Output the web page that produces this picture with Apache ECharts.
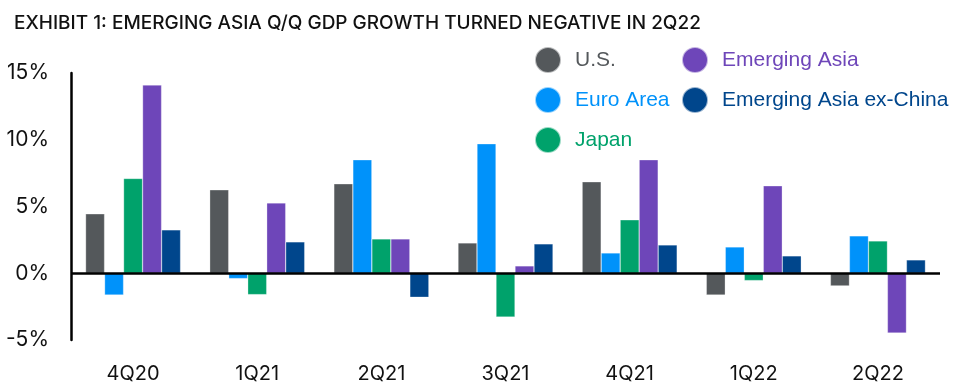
<!DOCTYPE html>
<html><head><meta charset="utf-8">
<script src="https://cdn.jsdelivr.net/npm/echarts@6/dist/echarts.min.js"></script>
<style>html,body{margin:0;padding:0;background:#fff}#c{width:955px;height:389px}</style>
</head><body><div id="c"></div>
<script>
const categories = ['4Q20','1Q21','2Q21','3Q21','4Q21','1Q22','2Q22'];
const us = [4.45, 6.25, 6.7, 2.27, 6.85, -1.63, -0.95];
const euroArea = [-1.63, -0.4, 8.5, 9.7, 1.52, 1.97, 2.8];
const japan = [7.1, -1.6, 2.57, -3.28, 4.0, -0.55, 2.42];
const emergingAsia = [14.1, 5.27, 2.57, 0.55, 8.5, 6.55, -4.48];
const emergingAsiaExChina = [3.25, 2.35, -1.8, 2.2, 2.12, 1.3, 1.0];
const yTicks = [-5, 0, 5, 10, 15];

const names = ['U.S.','Euro Area','Japan','Emerging Asia','Emerging Asia ex-China'];
const colors = ['#54585b','#0092fa','#00a26b','#6e46b9','#00468c'];
const values = [us, euroArea, japan, emergingAsia, emergingAsiaExChina];

const chart = echarts.init(document.getElementById('c'), null, {renderer:'canvas'});
const series = names.map((n,i)=>({
  name:n, type:'bar', data:values[i], barWidth:19, barGap:'0%',
  itemStyle:{color:colors[i], borderColor:'rgba(255,255,255,0.6)', borderWidth:0.5},
  markLine: i===0 ? {silent:true, symbol:'none', label:{show:false},
    lineStyle:{color:'#000', width:2.5, type:'solid'}, data:[{yAxis:0}], z:10} : undefined
}));
function legendItem(i){return {name:names[i], icon:'circle', textStyle:{color:colors[i]}};}
const legendText = {fontFamily:'Liberation Sans, Arial', fontSize:21, padding:[0,0,0,9]};
chart.setOption({
  animation:false,
  title:{text:'EXHIBIT 1: EMERGING ASIA Q/Q GDP GROWTH TURNED NEGATIVE IN 2Q22', left:14, top:14, padding:0,
    textStyle:{fontFamily:'Inter', fontWeight:500, fontSize:19, color:'#111'}},
  legend:[
    {left:534, top:46, padding:0, orient:'vertical', itemWidth:26, itemHeight:26, itemGap:12,
     data:[0,1,2].map(legendItem), textStyle:legendText},
    {left:681, top:46, padding:0, orient:'vertical', itemWidth:26, itemHeight:26, itemGap:12,
     data:[3,4].map(legendItem), textStyle:legendText}
  ],
  grid:{left:71, right:15, top:73, bottom:49, containLabel:false},
  xAxis:{type:'category', data:categories,
    axisLine:{show:false}, axisTick:{show:false},
    axisLabel:{fontFamily:'Inter', fontSize:20, color:'#111', margin:24}},
  yAxis:{type:'value', min:yTicks[0], max:yTicks[yTicks.length-1], interval:5,
    splitLine:{show:false},
    axisLine:{show:true, lineStyle:{color:'#000', width:2.5}},
    axisTick:{show:false},
    axisLabel:{formatter:'{value}%', fontFamily:'Inter', fontSize:21, color:'#111', margin:22}},
  series:series
});
</script></body></html>
